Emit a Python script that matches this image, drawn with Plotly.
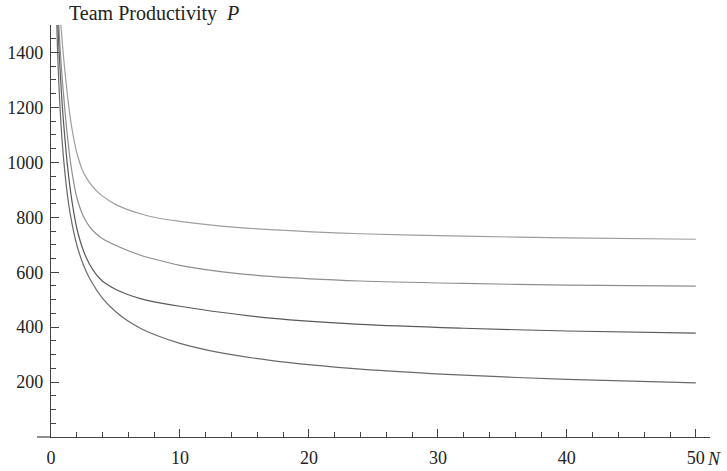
import plotly.graph_objects as go

# Team size N and productivity P for four curves
n_a = [0.74, 0.8, 0.9, 1.0, 1.25, 1.5, 1.75, 2.0, 2.5, 3.0, 3.5, 4.0, 5.0, 6.0, 7.0, 8.0, 10, 13, 17, 24, 32, 40, 50]
p_a = [1520, 1480, 1422, 1370, 1255, 1160, 1090, 1035, 965, 925, 898, 877, 847, 827, 812, 800, 785, 769, 755, 740, 731, 725, 720]

n_b = [0.6, 0.7, 0.8, 0.9, 1.0, 1.25, 1.5, 1.75, 2.0, 2.5, 3.0, 3.5, 4.0, 5.0, 6.0, 7.0, 8.0, 10, 13, 17, 24, 32, 40, 50]
p_b = [1505, 1420, 1350, 1287, 1232, 1105, 1005, 930, 872, 805, 765, 740, 722, 698, 678, 661, 648, 625, 603, 585, 568, 559, 553, 549]

n_c = [0.53, 0.6, 0.7, 0.8, 0.9, 1.0, 1.25, 1.5, 1.75, 2.0, 2.5, 3.0, 3.5, 4.0, 5.0, 6.0, 7.0, 8.0, 10, 13, 17, 24, 32, 40, 50]
p_c = [1500, 1430, 1340, 1260, 1190, 1130, 1000, 900, 822, 760, 680, 628, 592, 567, 538, 518, 503, 492, 476, 455, 433, 410, 396, 386, 378]

n_d = [0.45, 0.5, 0.6, 0.7, 0.8, 1.0, 1.25, 1.5, 2.0, 2.5, 3.0, 4.0, 5.0, 6.0, 7.0, 8.0, 10, 13, 17, 24, 32, 40, 50]
p_d = [1500, 1420, 1295, 1200, 1120, 1000, 890, 810, 700, 628, 577, 505, 457, 421, 394, 373, 341, 308, 279, 247, 225, 210, 197]

series = [
    (n_a, p_a, "#9e9e9e"),
    (n_b, p_b, "#8e8e8e"),
    (n_c, p_c, "#5a5a5a"),
    (n_d, p_d, "#6a6a6a"),
]

x_major = [0, 10, 20, 30, 40, 50]
y_major = [200, 400, 600, 800, 1000, 1200, 1400]

fig = go.Figure()
for xs, ys, col in series:
    fig.add_trace(go.Scatter(x=xs, y=ys, mode="lines",
                             line=dict(color=col, width=1.2, shape="spline", smoothing=0.8),
                             showlegend=False, hoverinfo="skip"))

font_serif = "Liberation Serif, Times New Roman, serif"
axis_col = "#444444"

fig.update_layout(
    width=727, height=471,
    margin=dict(l=51, r=17, t=25, b=34),
    paper_bgcolor="white", plot_bgcolor="white",
    font=dict(family=font_serif, size=18, color="#222222"),
    xaxis=dict(range=[0, 51.1], tickvals=x_major, ticktext=[str(v) for v in x_major],
               ticks="inside", ticklen=8, tickwidth=1, tickcolor=axis_col,
               showline=True, linecolor=axis_col, linewidth=1.2, automargin=False,
               showgrid=False, zeroline=False, ticklabelstandoff=4,
               minor=dict(dtick=2, tick0=0, ticks="inside", ticklen=5, tickcolor=axis_col, showgrid=False)),
    yaxis=dict(range=[0, 1500], tickvals=y_major, ticktext=[str(v) for v in y_major],
               ticks="inside", ticklen=8, tickwidth=1, tickcolor=axis_col,
               showline=True, linecolor=axis_col, linewidth=1.2, automargin=False,
               showgrid=False, zeroline=False, ticklabelstandoff=3,
               minor=dict(dtick=50, tick0=0, ticks="inside", ticklen=5, tickcolor=axis_col, showgrid=False)),
)

# x-axis line extends a little to the left of the origin
fig.add_shape(type="line", xref="paper", yref="paper", x0=-14/659, x1=0, y0=0, y1=0,
              line=dict(color=axis_col, width=1.2))

fig.add_annotation(text="Team Productivity  <i>P</i>", xref="paper", yref="paper",
                   x=16/659, y=1 + 11.5/412, xanchor="left", yanchor="middle",
                   showarrow=False, font=dict(family=font_serif, size=20, color="#222222"))
fig.add_annotation(text="<i>N</i>", xref="paper", yref="paper",
                   x=672/659, y=-22/412, xanchor="right", yanchor="middle",
                   showarrow=False, font=dict(family=font_serif, size=18, color="#222222"))

# remove the default page margin so the figure fills the window exactly
fig.write_html("out.html", config={"displayModeBar": False},
               post_script="document.body.style.margin='0';")
